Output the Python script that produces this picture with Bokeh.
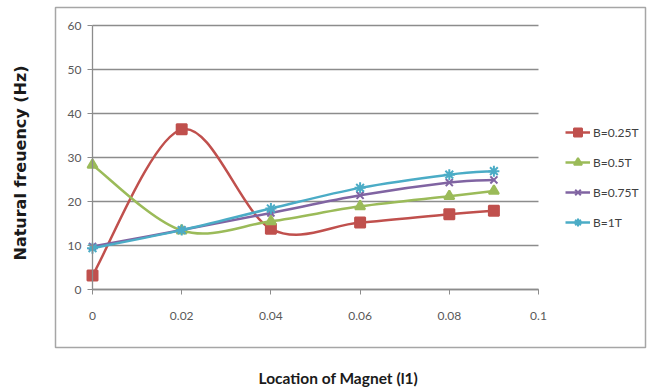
import numpy as np
from bokeh.plotting import figure
from bokeh.models import (ColumnDataSource, Legend, LegendItem, FixedTicker,
                          Title)
from bokeh.embed import file_html
from bokeh.resources import INLINE

# ---- data ----
x_vals = [0, 0.02, 0.04, 0.06, 0.08, 0.09]
b_025 = [3.2, 36.4, 13.8, 15.2, 17.1, 17.9]
b_05 = [28.3, 13.4, 15.5, 18.9, 21.2, 22.4]
b_075 = [9.8, 13.5, 17.4, 21.4, 24.3, 24.9]
b_1 = [9.4, 13.5, 18.4, 23.1, 26.1, 26.9]
series_names = ["B=0.25T", "B=0.5T", "B=0.75T", "B=1T"]
x_ticks = [0, 0.02, 0.04, 0.06, 0.08, 0.1]
x_tick_labels = ["0", "0.02", "0.04", "0.06", "0.08", "0.1"]
y_ticks = [0, 10, 20, 30, 40, 50, 60]
x_axis_span = (0, 0.1)
y_axis_span = (0, 60)

colors = ["#C0504D", "#9BBB59", "#8064A2", "#4BACC6"]
markers = ["square", "triangle", "x", "asterisk"]
sizes = [10, 10, 10, 11]

FONT = "Lato"

# ---- layout (pixels) ----
W, H = 649, 388
box_l, box_r, box_t, box_b = 55, 645, 7, 347      # chart-area border
pa_l, pa_r, pa_t, pa_b = 92, 538, 25, 289         # plot-area (axis span)

sx = (pa_r - pa_l) / (x_axis_span[1] - x_axis_span[0])
sy = (pa_b - pa_t) / (y_axis_span[1] - y_axis_span[0])
x_range = (x_axis_span[0] - (pa_l - box_l) / sx, x_axis_span[1] + (box_r - pa_r) / sx)
y_range = (y_axis_span[0] - (box_b - pa_b) / sy, y_axis_span[1] + (pa_t - box_t) / sy)


def smooth_segments(xs, ys):
    """Bezier control points (Excel-style smoothed line) from the data."""
    x = np.asarray(xs, float)
    y = np.asarray(ys, float)
    n = len(x)
    xp = np.concatenate([[x[0]], x, [x[-1]]])
    yp = np.concatenate([[y[0]], y, [y[-1]]])
    return dict(
        x0=x[:-1], y0=y[:-1], x1=x[1:], y1=y[1:],
        cx0=x[:-1] + (xp[2:n + 1] - xp[0:n - 1]) / 6.0,
        cy0=y[:-1] + (yp[2:n + 1] - yp[0:n - 1]) / 6.0,
        cx1=x[1:] - (xp[3:n + 2] - xp[1:n]) / 6.0,
        cy1=y[1:] - (yp[3:n + 2] - yp[1:n]) / 6.0,
    )


p = figure(width=W, height=H, x_range=x_range, y_range=y_range,
           output_backend="svg", toolbar_location=None,
           min_border_left=box_l, min_border_right=W - box_r,
           min_border_top=box_t, min_border_bottom=H - box_b,
           background_fill_color="white", border_fill_color="white")
p.outline_line_color = "#a6a6a6"
p.outline_line_width = 1.5

grey = "#8c8c8c"
p.xgrid.grid_line_color = None
p.ygrid.ticker = FixedTicker(ticks=y_ticks)
p.ygrid.grid_line_color = grey
p.ygrid.grid_line_width = 1.3
p.ygrid.cross_bounds = x_axis_span

p.xaxis.ticker = FixedTicker(ticks=x_ticks)
p.xaxis.major_label_overrides = {t: l for t, l in zip(x_ticks, x_tick_labels)}
p.yaxis.ticker = FixedTicker(ticks=y_ticks)
p.xaxis.fixed_location = y_axis_span[0]
p.yaxis.fixed_location = x_axis_span[0]
p.xaxis.bounds = x_axis_span
p.yaxis.bounds = y_axis_span

for ax in (p.xaxis[0], p.yaxis[0]):
    ax.axis_line_color = grey
    ax.axis_line_width = 1.3
    ax.major_tick_line_color = grey
    ax.major_tick_in = 0
    ax.major_tick_out = 5
    ax.minor_tick_line_color = None
    ax.major_label_text_font = FONT
    ax.major_label_text_font_size = "12px"
    ax.major_label_text_color = "#595959"

p.xaxis.major_label_standoff = 17
p.yaxis.major_label_standoff = 6

# spacers that push the axis titles away from the chart border
p.add_layout(Title(text=" ", text_font_size="1px", standoff=16), "below")
p.add_layout(Title(text="Location of Magnet (l1)", align="left", offset=203,
                   vertical_align="bottom",
                   text_font=FONT, text_font_style="bold",
                   text_font_size="15.5px", text_color="#1a1a1a",
                   standoff=0), "below")
p.add_layout(Title(text=" ", text_font_size="1px", standoff=23), "left")
p.add_layout(Title(text="Natural freuency (Hz)", align="left", offset=87,
                   vertical_align="bottom",
                   text_font="DejaVu Sans", text_font_style="bold",
                   text_font_size="16px", text_color="#1a1a1a",
                   standoff=0), "left")

items = []
for name, ys, c, m, s in zip(series_names, [b_025, b_05, b_075, b_1],
                             colors, markers, sizes):
    seg = ColumnDataSource(smooth_segments(x_vals, ys))
    r_line = p.bezier(x0="x0", y0="y0", x1="x1", y1="y1",
                      cx0="cx0", cy0="cy0", cx1="cx1", cy1="cy1",
                      source=seg, line_color=c, line_width=2.5)
    r_mark = p.scatter(x_vals, ys, marker=m, size=s, fill_color=c,
                       line_color=c, line_width=2)
    items.append(LegendItem(label=name, renderers=[r_line, r_mark]))

legend = Legend(items=items, location=(510, 115), padding=0, margin=0,
                spacing=10, glyph_width=25, glyph_height=20,
                label_height=20, label_standoff=3,
                label_text_font=FONT, label_text_font_size="12px",
                label_text_color="#404040",
                border_line_color=None, background_fill_alpha=0)
p.add_layout(legend)

open("out.html", "w").write(file_html(p, INLINE))
